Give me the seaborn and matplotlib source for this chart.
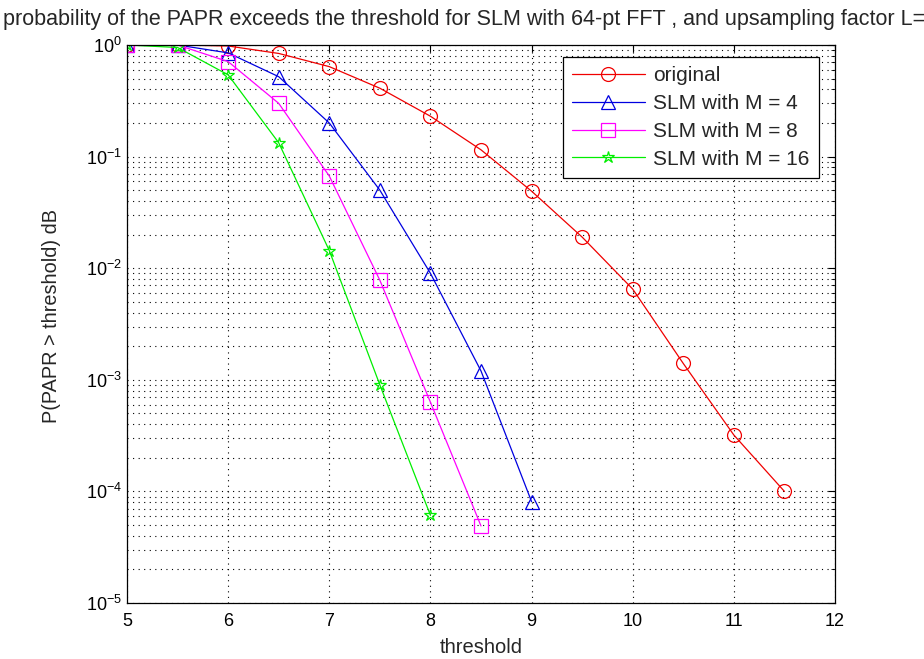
import matplotlib
matplotlib.use("Agg")
import matplotlib.pyplot as plt
import numpy as np
import seaborn as sns
from matplotlib.ticker import LogLocator, FixedLocator, NullFormatter

# Threshold axis values (dB)
threshold = [5, 5.5, 6, 6.5, 7, 7.5, 8, 8.5, 9, 9.5, 10, 10.5, 11, 11.5]

# CCDF values
original = [1.0, 1.0, 0.98, 0.84, 0.64, 0.41, 0.23, 0.115, 0.049, 0.019,
            0.0065, 0.0014, 3.2e-4, 1.0e-4]
slm_m4 = [1.0, 1.0, 0.85, 0.52, 0.20, 0.05, 0.009, 0.0012, 8.1e-5]
slm_m8 = [1.0, 1.0, 0.71, 0.30, 0.067, 0.0078, 6.3e-4, 4.9e-5]
slm_m16 = [1.0, 0.95, 0.54, 0.133, 0.0144, 9.0e-4, 6.1e-5]

series_labels = ["original", "SLM with M = 4", "SLM with M = 8", "SLM with M = 16"]
series_values = [original, slm_m4, slm_m8, slm_m16]
series_colors = ["#f00000", "#0000e0", "#ff00ff", "#00ee00"]
series_markers = ["o", "^", "s", "*"]

x_ticks = [5, 6, 7, 8, 9, 10, 11, 12]
y_ticks = [1e-5, 1e-4, 1e-3, 1e-2, 1e-1, 1]
y_tick_labels = ["$10^{-5}$", "$10^{-4}$", "$10^{-3}$", "$10^{-2}$", "$10^{-1}$", "$10^{0}$"]

sns.set_style("white")
plt.rcParams["font.family"] = ["Liberation Sans", "DejaVu Sans"]
plt.rcParams["mathtext.fontset"] = "custom"
plt.rcParams["mathtext.rm"] = "Liberation Sans"
plt.rcParams["mathtext.it"] = "Liberation Sans:italic"

fig = plt.figure(figsize=(9.24, 6.59), dpi=100)
ax = fig.add_axes([127 / 924, 1 - 603 / 659, (835 - 127) / 924, (603 - 45) / 659])

for lab, vals, col, mk in zip(series_labels, series_values, series_colors, series_markers):
    sns.lineplot(x=threshold[:len(vals)], y=vals, color=col, marker=mk,
                 markerfacecolor="none", markeredgecolor=col, markeredgewidth=0.9,
                 markersize=10 if mk != "*" else 9, linewidth=0.9, label=lab, ax=ax)

ax.set_yscale("log")
ax.set_xlim(5, 12)
ax.set_ylim(1e-5, 1)

ax.xaxis.set_major_locator(FixedLocator(x_ticks))
ax.set_yticks(y_ticks)
ax.set_yticklabels(y_tick_labels)
ax.yaxis.set_minor_locator(LogLocator(base=10, subs=np.arange(2, 10), numticks=20))
ax.yaxis.set_minor_formatter(NullFormatter())

ax.tick_params(axis="both", which="both", direction="in", top=True, right=True,
               labelsize=13, colors="black")
ax.tick_params(which="major", length=5, width=0.8)
ax.tick_params(which="minor", length=3, width=0.6)
ax.tick_params(axis="x", pad=7)

ax.grid(True, which="major", axis="both", linestyle=(0, (1, 4)), color="black", linewidth=0.8)
ax.grid(True, which="minor", axis="y", linestyle=(0, (1, 4)), color="black", linewidth=0.8)

for s in ax.spines.values():
    s.set_color("black")
    s.set_linewidth(0.9)

ax.set_xlabel("threshold", fontsize=14.5, labelpad=6)
ax.set_ylabel("P(PAPR > threshold) dB", fontsize=14.3, labelpad=4)
ax.yaxis.set_label_coords(-0.093, 0.515)

# the reference title runs past the right edge of the figure
fig.text(3 / 924, 1 - 20 / 659,
         "probability of the PAPR exceeds the threshold for SLM with 64-pt FFT , and upsampling factor L=4",
         fontsize=15.5, ha="left", va="center")

leg = ax.legend(loc="upper right", bbox_to_anchor=(819 / 924, 1 - 57 / 659),
                bbox_transform=fig.transFigure, fancybox=False, edgecolor="black",
                framealpha=1, fontsize=15, handlelength=3.5, handletextpad=0.4,
                borderpad=0.45, labelspacing=0.42, borderaxespad=0)
leg.get_frame().set_linewidth(0.9)

fig.savefig("out.png", dpi=100)
